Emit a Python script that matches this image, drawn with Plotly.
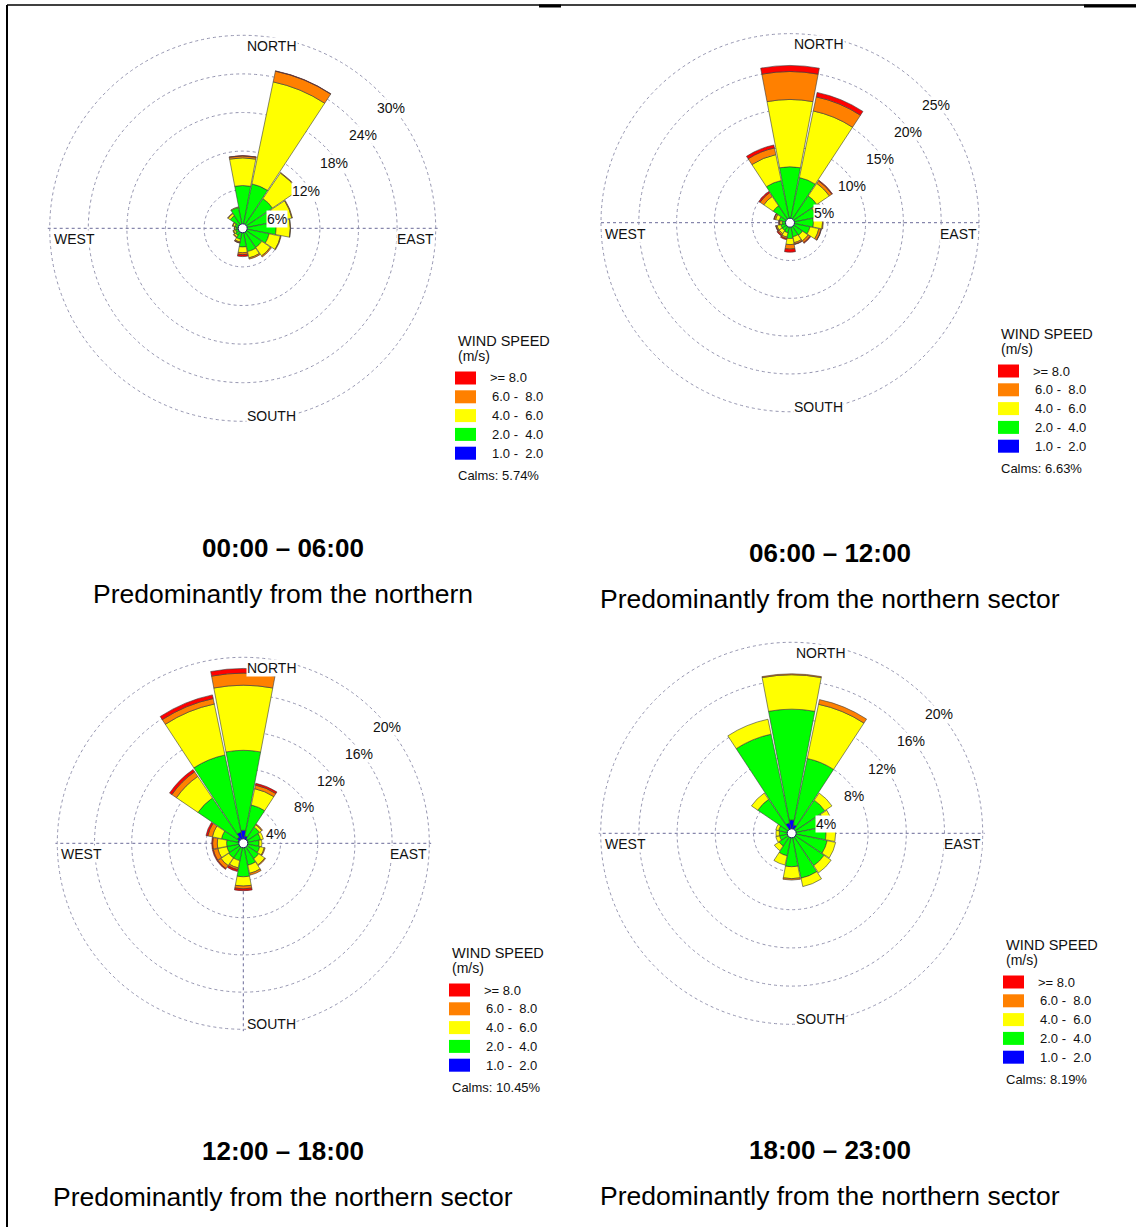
import plotly.graph_objects as go

# ---------------- data ----------------
directions = ["N", "NNE", "NE", "ENE", "E", "ESE", "SE", "SSE",
              "S", "SSW", "SW", "WSW", "W", "WNW", "NW", "NNW"]
dir_angles = [0, 22.5, 45, 67.5, 90, 112.5, 135, 157.5,
              180, 202.5, 225, 247.5, 270, 292.5, 315, 337.5]

speed_labels = [">= 8.0", "6.0 -  8.0", "4.0 -  6.0", "2.0 -  4.0", "1.0 -  2.0"]
speed_colors = ["#ff0000", "#ff8000", "#ffff00", "#00ff00", "#0000ff"]

period_titles = ["00:00 \u2013 06:00", "06:00 \u2013 12:00", "12:00 \u2013 18:00", "18:00 \u2013 23:00"]
period_notes = ["Predominantly from the northern",
                "Predominantly from the northern sector",
                "Predominantly from the northern sector",
                "Predominantly from the northern sector"]
calms = [5.74, 6.63, 10.45, 8.19]
ring_ticks = [[6, 12, 18, 24, 30], [5, 10, 15, 20, 25], [4, 8, 12, 16, 20], [4, 8, 12, 16, 20]]

# frequencies (%) per speed class, directions in order N..NNW
p1_blue   = [0.15, 0.15, 0.1, 0.1, 0.1, 0.1, 0.1, 0.1, 0.1, 0.05, 0.05, 0.05, 0.05, 0.05, 0.05, 0.1]
p1_green  = [6.5, 6.9, 5.5, 5.1, 5.1, 4.1, 3.5, 3.6, 2.8, 1.7, 1.3, 1.1, 1.0, 1.2, 2.3, 3.2]
p1_yellow = [4.3, 16.2, 4.8, 2.6, 2.2, 1.8, 1.6, 1.0, 0.9, 0.4, 0.3, 0.3, 0.2, 0.3, 0.4, 0.1]
p1_orange = [0.3, 1.7, 0.1, 0.1, 0.05, 0.1, 0.2, 0.2, 0.3, 0.15, 0.1, 0.1, 0.05, 0.1, 0.1, 0.0]
p1_red    = [0.05, 0.05, 0.0, 0.0, 0.0, 0.0, 0.0, 0.0, 0.3, 0.05, 0.0, 0.0, 0.0, 0.0, 0.0, 0.0]

p2_blue   = [0.3, 0.2, 0.1, 0.1, 0.1, 0.1, 0.1, 0.1, 0.1, 0.05, 0.05, 0.05, 0.05, 0.05, 0.1, 0.2]
p2_green  = [7.1, 5.9, 4.2, 3.4, 3.0, 2.6, 1.9, 1.8, 2.0, 1.3, 1.2, 1.2, 1.0, 1.4, 2.6, 5.5]
p2_yellow = [8.9, 9.0, 2.0, 0.9, 1.2, 1.2, 0.9, 0.8, 0.8, 0.6, 0.5, 0.5, 0.3, 0.5, 1.5, 3.5]
p2_orange = [3.7, 1.9, 0.4, 0.2, 0.1, 0.3, 0.3, 0.2, 0.6, 0.2, 0.2, 0.15, 0.1, 0.2, 0.6, 0.9]
p2_red    = [0.8, 0.6, 0.1, 0.0, 0.0, 0.05, 0.1, 0.05, 0.4, 0.15, 0.15, 0.05, 0.05, 0.05, 0.2, 0.4]

p3_blue   = [1.4, 0.8, 0.6, 0.5, 0.4, 0.4, 0.4, 0.4, 0.4, 0.3, 0.3, 0.3, 0.3, 0.6, 0.8, 1.2]
p3_green  = [8.6, 3.4, 1.5, 1.4, 1.3, 1.4, 1.6, 2.0, 3.2, 1.6, 1.6, 1.5, 1.5, 1.8, 5.1, 8.5]
p3_yellow = [7.0, 1.8, 0.3, 0.3, 0.3, 0.5, 0.8, 0.9, 1.0, 0.8, 1.0, 1.0, 1.0, 1.0, 2.8, 5.6]
p3_orange = [1.3, 0.4, 0.1, 0.0, 0.0, 0.1, 0.1, 0.2, 0.3, 0.2, 0.4, 0.5, 0.5, 0.5, 0.6, 0.6]
p3_red    = [0.5, 0.2, 0.0, 0.0, 0.0, 0.0, 0.0, 0.0, 0.2, 0.2, 0.1, 0.1, 0.1, 0.2, 0.3, 0.4]

p4_blue   = [1.4, 0.9, 0.4, 0.3, 0.2, 0.2, 0.2, 0.2, 0.3, 0.2, 0.1, 0.1, 0.1, 0.1, 0.3, 1.1]
p4_green  = [11.6, 7.1, 3.8, 3.3, 3.4, 3.6, 3.9, 4.6, 3.2, 2.2, 1.5, 1.2, 1.2, 1.3, 4.0, 9.5]
p4_yellow = [3.6, 5.8, 0.9, 0.8, 1.0, 0.9, 0.9, 0.9, 1.25, 1.0, 0.6, 0.4, 0.35, 0.3, 0.8, 1.6]
p4_orange = [0.1, 0.5, 0.0, 0.0, 0.0, 0.0, 0.0, 0.0, 0.15, 0.0, 0.0, 0.0, 0.0, 0.0, 0.0, 0.0]
p4_red    = [0.0, 0.0, 0.0, 0.0, 0.0, 0.0, 0.0, 0.0, 0.0, 0.0, 0.0, 0.0, 0.0, 0.0, 0.0, 0.0]

periods = [
    [p1_blue, p1_green, p1_yellow, p1_orange, p1_red],
    [p2_blue, p2_green, p2_yellow, p2_orange, p2_red],
    [p3_blue, p3_green, p3_yellow, p3_orange, p3_red],
    [p4_blue, p4_green, p4_yellow, p4_orange, p4_red],
]

# ---------------- layout geometry (pixels) ----------------
W, H = 1136, 1227
rose_centers = [(242.7, 228.3), (790.0, 222.7), (243.3, 843.3), (791.7, 833.3)]
rose_radii = [193, 189, 186, 191]
legend_origin = [(455, 378), (998, 371), (449, 990), (1003, 982)]  # swatch left, first swatch centre y
caption_pos = [(283, 548), (830, 553), (283, 1151), (830, 1150)]
south_spoke = [False, False, True, False]
EXT = 1.01  # radial range slightly beyond outer ring so its gridline is drawn

FONT = "Liberation Sans, Arial, sans-serif"
GRID = "#9595b0"
SPOKE = "#6a6a98"

def px(x):
    return x / W

def py(y):
    return 1 - y / H

def note(x, y, text, size, xa="left", ya="middle", bg=None, color="#111"):
    d = dict(x=px(x), y=py(y), xref="paper", yref="paper", text=text, showarrow=False,
             xanchor=xa, yanchor=ya, font=dict(family=FONT, size=size, color=color))
    if bg:
        d.update(bgcolor=bg, borderpad=0)
    return d

fig = go.Figure()
annotations = []
shapes = []

class_color = ["#0000ff", "#00ff00", "#ffff00", "#ff8000", "#ff0000"]

for k in range(4):
    pname = "polar" if k == 0 else f"polar{k+1}"
    cx, cy = rose_centers[k]
    ticks = ring_ticks[k]
    R = rose_radii[k]
    Rd = R * EXT
    for j in range(5):
        fig.add_trace(go.Barpolar(
            r=periods[k][j], theta=dir_angles, width=21.5,
            marker=dict(color=class_color[j], line=dict(color="#3a3a3a", width=0.6)),
            subplot=pname, showlegend=False, hoverinfo="skip",
        ))
    fig.add_trace(go.Scatterpolar(
        r=[0], theta=[0], mode="markers", subplot=pname, showlegend=False, hoverinfo="skip",
        marker=dict(size=9, color="white", line=dict(color="#202060", width=1)),
    ))
    ang_ticks = [90, 180, 270] if south_spoke[k] else [90, 270]
    fig.layout[pname] = dict(
        domain=dict(x=[px(cx - Rd), px(cx + Rd)], y=[py(cy + Rd), py(cy - Rd)]),
        bgcolor="white",
        barmode="stack",
        radialaxis=dict(range=[0, ticks[-1] * EXT], tickvals=ticks, showticklabels=False,
                        ticks="", showline=False, gridcolor=GRID, gridwidth=1, griddash="dot",
                        layer="below traces"),
        angularaxis=dict(direction="clockwise", rotation=90, tickvals=ang_ticks,
                         showticklabels=False, ticks="", showline=False,
                         gridcolor=SPOKE, gridwidth=1, griddash="dot",
                         layer="below traces"),
    )
    # ring labels
    for i, t in enumerate(ticks):
        f = (i + 1) / len(ticks)
        lx = cx + R * (0.03 + 0.74 * f)
        ly = cy + R * (0.095 - 0.72 * f)
        annotations.append(note(lx, ly, f"{t}%", 14, xa="center", bg="white"))
    # compass labels
    annotations.append(note(cx + 3, cy - R + 10.5, "NORTH", 14, bg="white"))
    annotations.append(note(cx + 3, cy + R - 5, "SOUTH", 14, bg="white"))
    annotations.append(note(cx - R + 3, cy + 11, "WEST", 14, bg="white"))
    annotations.append(note(cx + R - 1, cy + 11, "EAST", 14, xa="right", bg="white"))
    # legend
    lx0, ly0 = legend_origin[k]
    step = 18.8
    annotations.append(note(lx0 + 1, ly0 - 37, "WIND SPEED", 14.5))
    annotations.append(note(lx0 + 1, ly0 - 22, "(m/s)", 14))
    for s in range(5):
        yc = ly0 + s * step
        shapes.append(dict(type="rect", xref="paper", yref="paper",
                           x0=px(lx0), x1=px(lx0 + 21), y0=py(yc + 6.5), y1=py(yc - 6.5),
                           fillcolor=speed_colors[s], line=dict(width=0)))
        annotations.append(note(lx0 + (33 if s == 0 else 35), yc,
                                speed_labels[s].replace("  ", "&nbsp; "), 13))
    annotations.append(note(lx0 + 1, ly0 + 97, f"Calms: {calms[k]:.2f}%", 13))
    # captions
    ccx, ccy = caption_pos[k]
    annotations.append(note(ccx, ccy, f"<b>{period_titles[k]}</b>", 26, xa="center", color="#000"))
    annotations.append(note(ccx, ccy + 46, period_notes[k], 26.5, xa="center", color="#000"))

# frame lines
shapes.append(dict(type="line", xref="paper", yref="paper", x0=px(7), x1=px(7), y0=py(5), y1=py(H),
                   line=dict(color="black", width=2)))
shapes.append(dict(type="line", xref="paper", yref="paper", x0=px(7), x1=px(W), y0=py(5), y1=py(5),
                   line=dict(color="black", width=1.5)))
shapes.append(dict(type="line", xref="paper", yref="paper", x0=px(539), x1=px(561), y0=py(6), y1=py(6),
                   line=dict(color="black", width=3)))
shapes.append(dict(type="line", xref="paper", yref="paper", x0=px(1084), x1=px(W), y0=py(6), y1=py(6),
                   line=dict(color="black", width=3)))

fig.update_layout(width=W, height=H, margin=dict(l=0, r=0, t=0, b=0),
                  paper_bgcolor="white", plot_bgcolor="white", showlegend=False,
                  annotations=annotations, shapes=shapes)

fig.write_html("out.html", config={"displayModeBar": False},
               post_script="document.body.style.margin='0';document.body.style.overflow='hidden';")
